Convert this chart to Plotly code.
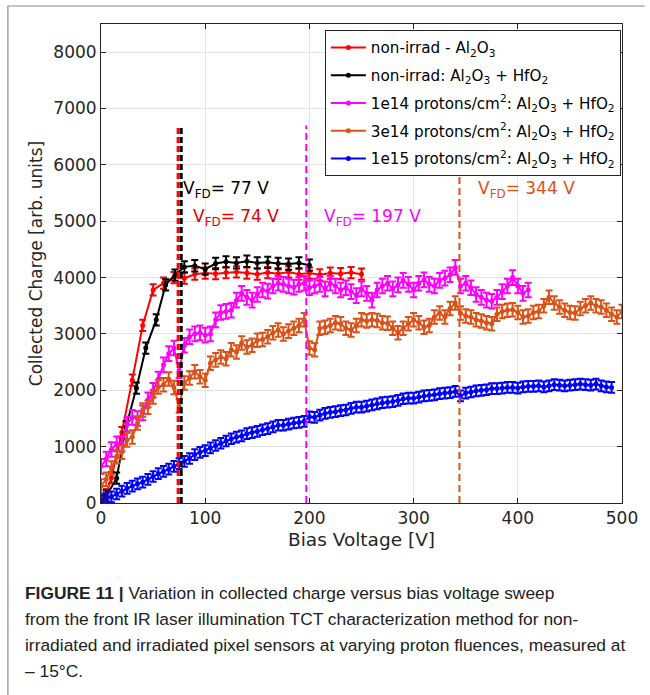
import plotly.graph_objects as go

# ---------------- data ----------------
red_v = [0, 5, 10, 20, 30, 40, 50, 60, 70, 80, 90, 100, 110, 120, 130, 140, 150, 160,
         170, 180, 190, 200, 210, 220, 230, 240, 250]
red_q = [50, 150, 450, 1250, 2180, 3150, 3780, 3900, 4000, 3990, 4060, 4080, 4070, 4090,
         4100, 4080, 4060, 4090, 4070, 4100, 4060, 4080, 4050, 4080, 4070, 4090, 4060]

black_v = [0, 5, 15, 24, 34, 43, 53, 62, 71, 80, 90, 100, 110, 120, 130, 140, 150, 160,
           170, 180, 190, 200]
black_q = [30, 120, 440, 1350, 2040, 2750, 3250, 3870, 4045, 4190, 4210, 4150, 4250, 4280,
           4260, 4290, 4260, 4270, 4250, 4240, 4260, 4220]

mag_v = list(range(0, 415, 5))
mag_q = [650, 780, 950, 1050, 1050, 1400, 1520, 1500, 1600, 1830, 2000, 2200, 2450, 2650,
         2750, 2350, 2800, 2950, 3000, 3020, 2980, 3000, 3250, 3380, 3400, 3420, 3600, 3720,
         3650, 3600, 3700, 3780, 3760, 3850, 3900, 3880, 3850, 3830, 3880, 3900, 3820, 3850,
         3880, 3800, 3900, 3850, 3780, 3820, 3750, 3680, 3800, 3720, 3600, 3780, 3850, 3900,
         3800, 3870, 3950, 3880, 3780, 3900, 3960, 3880, 3850, 3950, 3990, 4050, 4180, 3850,
         3900, 3820, 3700, 3650, 3600, 3580, 3650, 3750, 3850, 4000, 3850, 3720, 3780]

org_v = list(range(0, 505, 5))
org_q = [300, 420, 620, 820, 900, 1120, 1170, 1420, 1650, 1700, 1880, 2060, 2100, 2200,
         2050, 1720, 2130, 2220, 2330, 2240, 2180, 2480, 2540, 2590, 2560, 2720, 2680, 2840,
         2770, 2800, 2890, 2900, 2950, 3020, 3070, 3000, 3050, 3100, 3150, 3250, 2750, 2720,
         3100, 3120, 3150, 3200, 3180, 3100, 3070, 3150, 3250, 3230, 3250, 3240, 3200, 3190,
         3100, 3020, 3100, 3180, 3250, 3200, 3120, 3150, 3300, 3370, 3300, 3450, 3550, 3370,
         3320, 3300, 3250, 3230, 3200, 3180, 3350, 3400, 3420, 3430, 3380, 3300, 3320, 3380,
         3400, 3500, 3650, 3550, 3480, 3420, 3380, 3370, 3450, 3500, 3550, 3500, 3480, 3420,
         3350, 3300, 3400]

blue_v = list(range(0, 495, 5))
blue_q = [50, 80, 110, 160, 210, 260, 300, 340, 370, 420, 470, 520, 560, 600, 650, 700, 740,
          790, 860, 900, 930, 980, 1020, 1060, 1100, 1140, 1170, 1190, 1230, 1250, 1270, 1300,
          1320, 1350, 1380, 1380, 1400, 1420, 1430, 1450, 1530, 1520, 1560, 1590, 1610, 1620,
          1640, 1650, 1680, 1700, 1700, 1720, 1740, 1760, 1780, 1790, 1800, 1820, 1850, 1860,
          1860, 1880, 1900, 1910, 1920, 1940, 1950, 1960, 1980, 1900, 1950, 1970, 1990, 2000,
          2010, 2030, 2030, 2040, 2050, 2050, 2040, 2060, 2070, 2070, 2080, 2060, 2080, 2100,
          2090, 2080, 2090, 2100, 2110, 2100, 2090, 2110, 2080, 2060, 2050]

err_red = 100
err_black = 100
err_mag = 130
err_org = 120
err_blue = 95

vfd_values = [77, 74, 197, 344]
vfd_colors = ["#000000", "#e00000", "#ff00ff", "#d95319"]

names = [
    "non-irrad - Al<sub>2</sub>O<sub>3</sub>",
    "non-irrad: Al<sub>2</sub>O<sub>3</sub> + HfO<sub>2</sub>",
    "1e14 protons/cm<sup>2</sup>: Al<sub>2</sub>O<sub>3</sub> + HfO<sub>2</sub>",
    "3e14 protons/cm<sup>2</sup>: Al<sub>2</sub>O<sub>3</sub> + HfO<sub>2</sub>",
    "1e15 protons/cm<sup>2</sup>: Al<sub>2</sub>O<sub>3</sub> + HfO<sub>2</sub>",
]

caption_lines = [
    "<b>FIGURE 11 |</b> Variation in collected charge versus bias voltage sweep",
    "from the front IR laser illumination TCT characterization method for non-",
    "irradiated and irradiated pixel sensors at varying proton fluences, measured at",
    "\u2013 15\u00b0C.",
]

# ---------------- figure ----------------
FONT = "DejaVu Sans, Verdana, sans-serif"
fig = go.Figure()

series = [
    (red_v, red_q, err_red, "#ff0000"),
    (black_v, black_q, err_black, "#000000"),
    (mag_v, mag_q, err_mag, "#ff00ff"),
    (org_v, org_q, err_org, "#d95319"),
    (blue_v, blue_q, err_blue, "#0000ff"),
]

# dashed V_FD lines
dash_specs = [
    (vfd_values[1], "#ff0000", 3, "6px,3px", 6700),
    (vfd_values[0], "#000000", 3, "6px,3px", 6700),
    (vfd_values[2], "#ff00ff", 2, "7px,4px", 6700),
    (vfd_values[3], "#d95319", 2, "7px,4px", 6700),
]
for xv, col, w, d, top in dash_specs:
    fig.add_shape(type="line", xref="x", yref="y", x0=xv, x1=xv, y0=0, y1=top,
                  line=dict(color=col, width=w, dash=d), layer="above")

for i, ((vx, qy, e, col), nm) in enumerate(zip(series, names)):
    fig.add_trace(go.Scatter(
        x=vx, y=qy, name=nm, mode="lines+markers", legendgroup="g%d" % i,
        line=dict(color=col, width=2),
        marker=dict(color=col, size=5),
        error_y=dict(type="constant", value=e, color=col, thickness=2, width=3.5),
    ))

# V_FD labels
label_pos = [
    (77, 5560, "left"),
    (86, 5060, "left"),
    (212, 5060, "left"),
    (360, 5560, "left"),
]
for (xv, yv, anc), val, col in zip(label_pos, vfd_values, vfd_colors):
    fig.add_annotation(x=xv, y=yv, xref="x", yref="y", xanchor=anc, yanchor="middle",
                       text="V<sub>FD</sub>= %d V" % val, showarrow=False,
                       font=dict(family=FONT, size=17, color=col))

# caption
cap_y = [593, 619, 645, 671]
for line, py in zip(caption_lines, cap_y):
    fig.add_annotation(x=(22 - 101) / 526, y=(503 - py) / 479, xref="paper", yref="paper",
                       xanchor="left", yanchor="middle", text=line, showarrow=False,
                       font=dict(family="Liberation Sans Narrow, Arial Narrow, Liberation Sans, sans-serif",
                                 size=17.4, color="#222222"))

# outer frame (top and left edges)
fx0 = (7 - 101) / 526
fy0 = (503 - 6) / 479
fig.add_shape(type="line", xref="paper", yref="paper", x0=fx0, x1=(650 - 101) / 526,
              y0=fy0, y1=fy0, line=dict(color="#8a8a8a", width=1.2))
fig.add_shape(type="line", xref="paper", yref="paper", x0=fx0, x1=fx0,
              y0=fy0, y1=(503 - 700) / 479, line=dict(color="#8a8a8a", width=1.2))

axis_common = dict(
    showline=True, linecolor="#262626", linewidth=1, mirror="ticks",
    ticks="inside", ticklen=5, tickcolor="#262626",
    showgrid=True, gridcolor="#e3e3e3", gridwidth=1, zeroline=False,
    tickfont=dict(family=FONT, size=17, color="#262626"),
)
fig.update_xaxes(range=[0, 500], tickvals=[0, 100, 200, 300, 400, 500],
                 title=dict(text="Bias Voltage [V]", font=dict(family=FONT, size=18.5, color="#262626"),
                            standoff=5),
                 **axis_common)
fig.update_yaxes(range=[0, 8500], tickvals=[0, 1000, 2000, 3000, 4000, 5000, 6000, 7000, 8000],
                 title=dict(text="Collected Charge [arb. units]",
                            font=dict(family=FONT, size=17, color="#262626"), standoff=6),
                 **axis_common)

fig.update_layout(
    width=650, height=695,
    margin=dict(l=101, r=23, t=24, b=192),
    paper_bgcolor="white", plot_bgcolor="white",
    showlegend=True,
    legend=dict(x=(327 - 101) / 526, y=(503 - 30) / 479, xanchor="left", yanchor="top",
                bgcolor="white", bordercolor="#262626", borderwidth=1,
                font=dict(family=FONT, size=15.2, color="#000000"),
                tracegroupgap=5, itemwidth=35),
)

fig.write_html("out.html")
